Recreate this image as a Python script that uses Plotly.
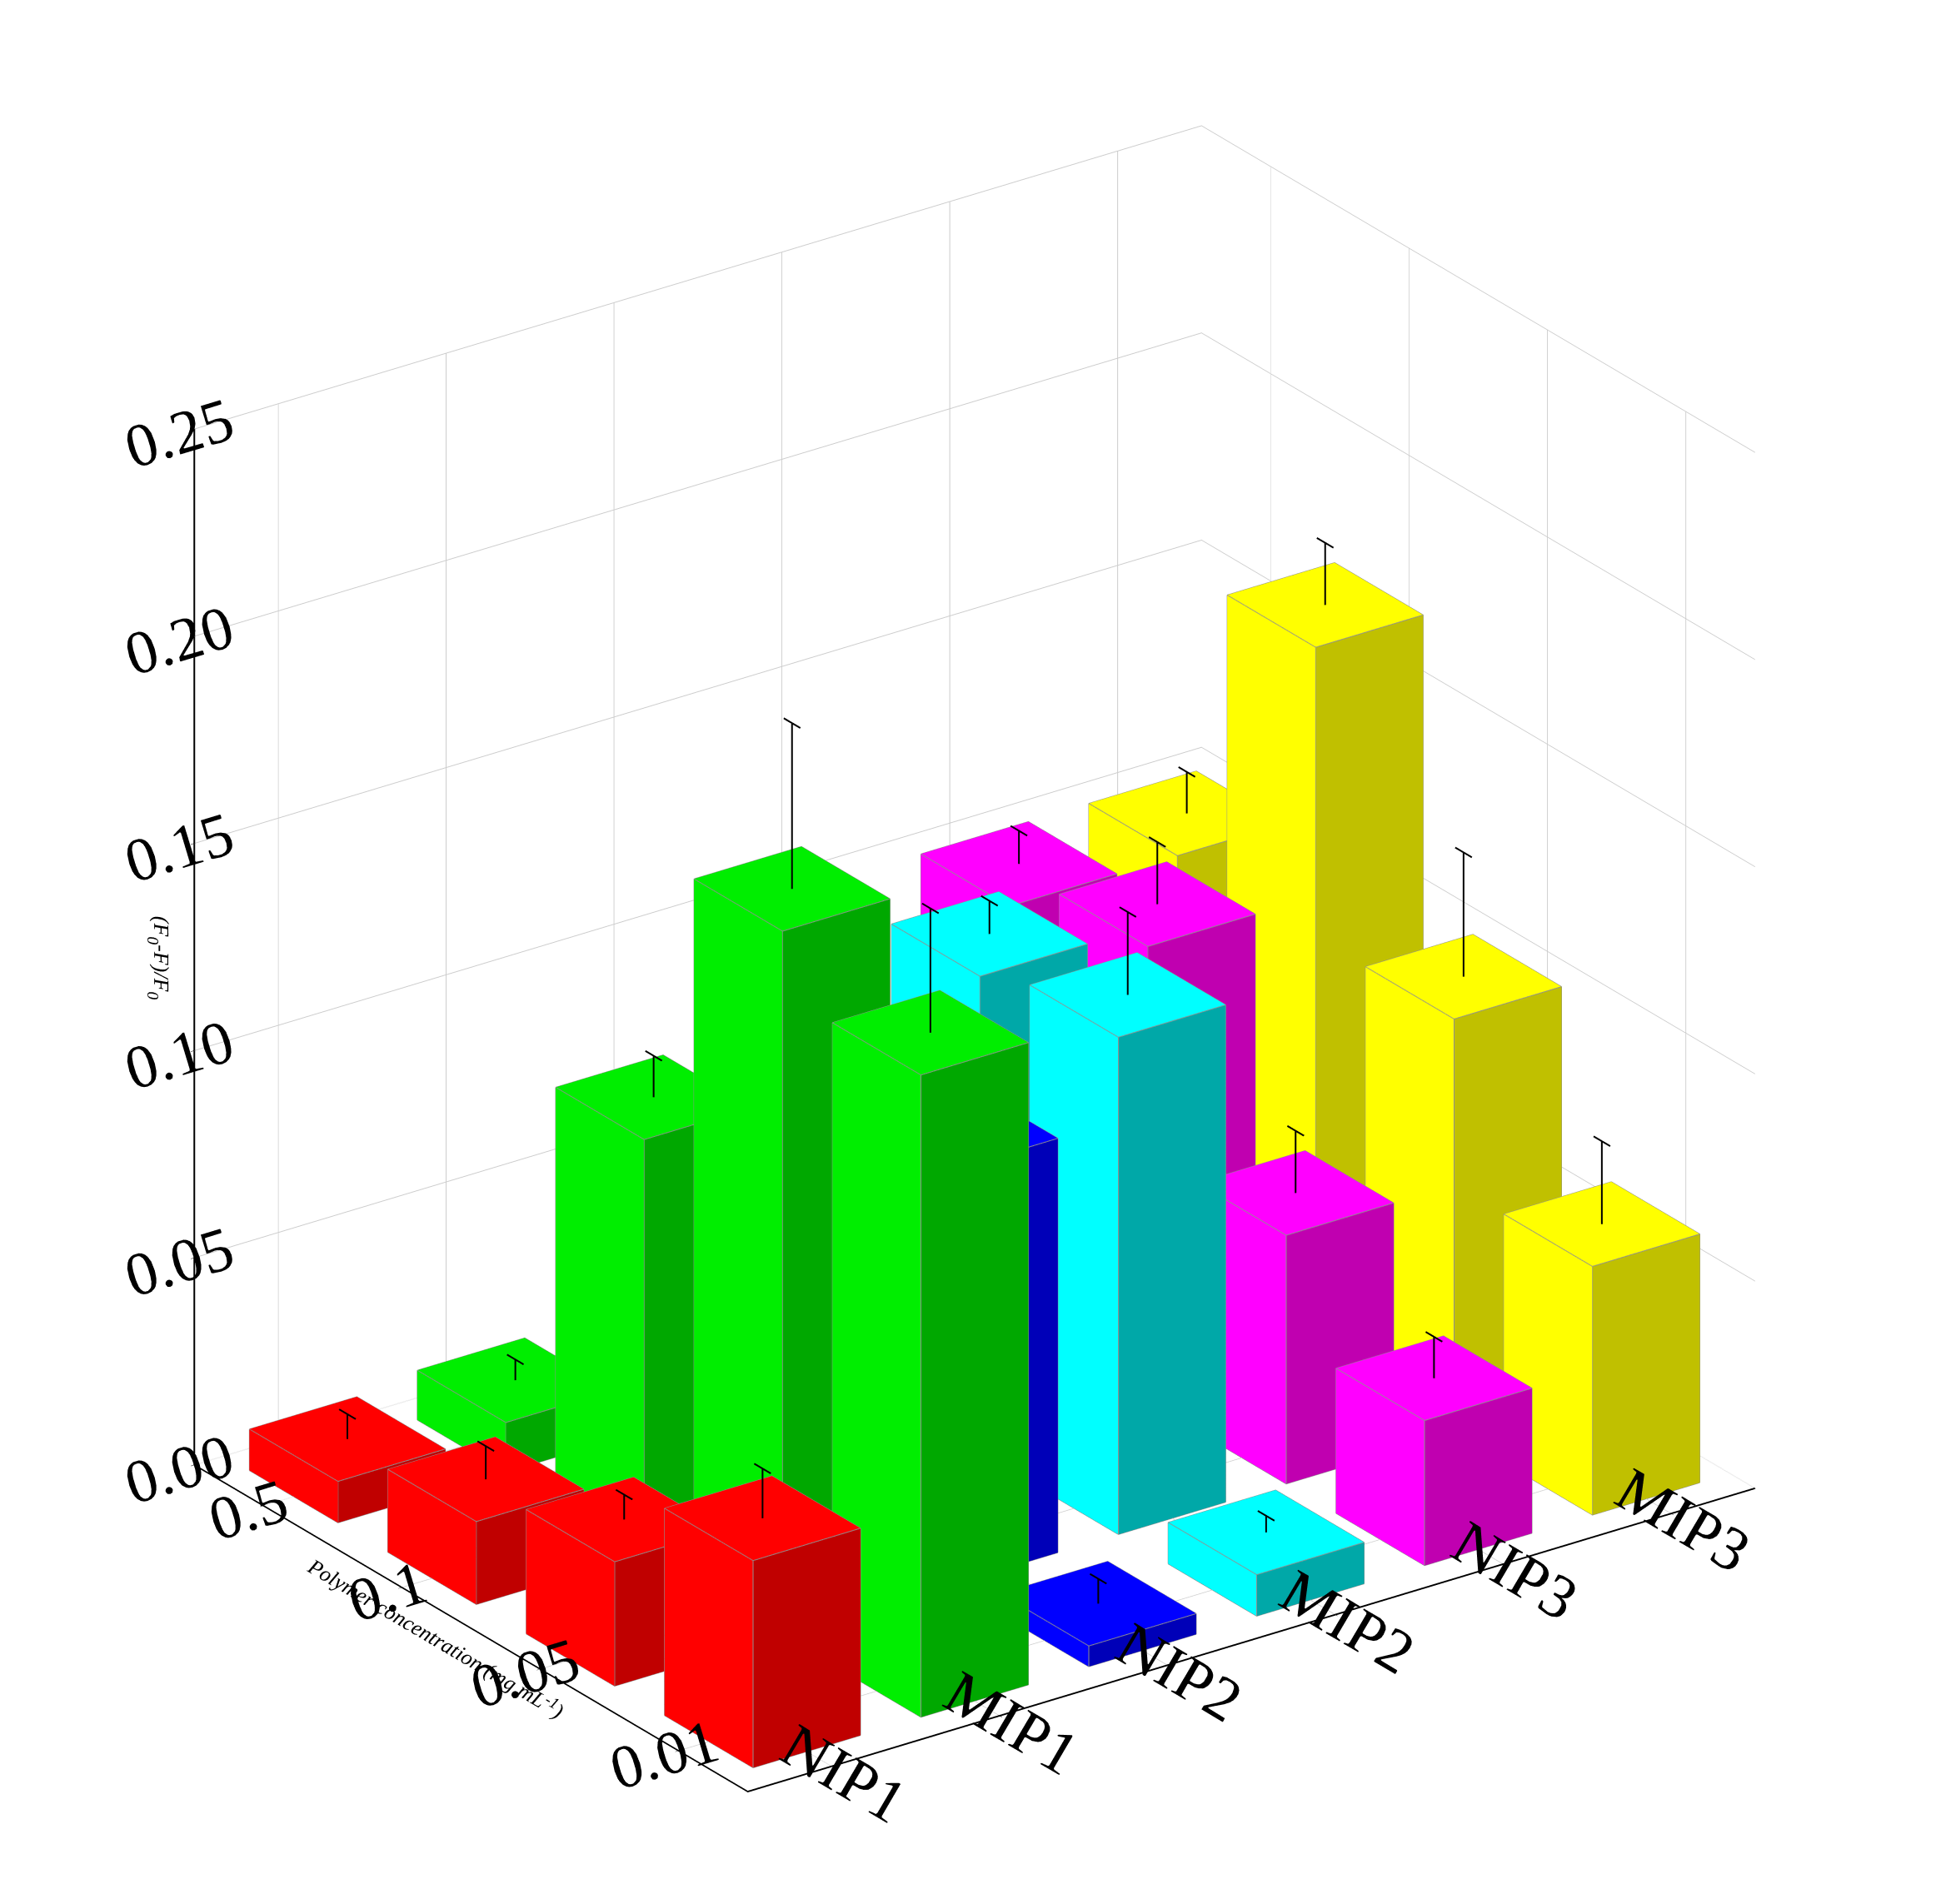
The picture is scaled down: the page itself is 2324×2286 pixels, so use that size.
import plotly.graph_objects as go

concs = ['0.5', '0.1', '0.05', '0.01']
series = ['NIP1', 'MIP1', 'NIP2', 'MIP2', 'NIP3', 'MIP3']
colors = ['#ff0000', '#00ee00', '#0000ff', '#00ffff', '#ff00ff', '#ffff00']
dark = ['#c00000', '#00a800', '#0000b8', '#00a8a8', '#c000b0', '#c0c000']

# values per series, ordered as concs
vals = {
    'NIP1': [0.010, 0.020, 0.030, 0.050],
    'MIP1': [0.012, 0.100, 0.170, 0.155],
    'NIP2': [0.030, 0.070, 0.100, 0.005],
    'MIP2': [0.060, 0.115, 0.120, 0.010],
    'NIP3': [0.100, 0.110, 0.060, 0.035],
    'MIP3': [0.100, 0.170, 0.100, 0.060],
}
errs = {
    'NIP1': [0.006, 0.008, 0.006, 0.012],
    'MIP1': [0.005, 0.010, 0.040, 0.030],
    'NIP2': [0.004, 0.006, 0.008, 0.006],
    'MIP2': [0.005, 0.008, 0.020, 0.004],
    'NIP3': [0.008, 0.015, 0.015, 0.010],
    'MIP3': [0.010, 0.015, 0.030, 0.020],
}

w = 0.32
fig = go.Figure()
for j, s in enumerate(series):
    X, Y, Z, I, J, K, FC = [], [], [], [], [], [], []
    ex, ey, ez = [], [], []
    gx, gy, gz = [], [], []
    for i, v in enumerate(vals[s]):
        n = len(X)
        for dz in (0, v):
            for dx, dy in ((-w, -w), (w, -w), (w, w), (-w, w)):
                X.append(i + dx); Y.append(j + dy); Z.append(dz)
        faces = [(0, 1, 2), (0, 2, 3), (4, 5, 6), (4, 6, 7),
                 (0, 1, 5), (0, 5, 4), (1, 2, 6), (1, 6, 5),
                 (2, 3, 7), (2, 7, 6), (3, 0, 4), (3, 4, 7)]
        fcol = [dark[j], dark[j], colors[j], colors[j],
                colors[j], colors[j], dark[j], dark[j],
                dark[j], dark[j], colors[j], colors[j]]
        for (a, b, c), fc in zip(faces, fcol):
            I.append(n + a); J.append(n + b); K.append(n + c); FC.append(fc)
        # visible edges
        for p in ([4, 5, 6, 7, 4], [0, 1, 2], [1, 5], [0, 4], [2, 6]):
            gx += [X[n + q] for q in p] + [None]
            gy += [Y[n + q] for q in p] + [None]
            gz += [Z[n + q] for q in p] + [None]
        top = v + errs[s][i]
        c = 0.06
        ex += [i, i, None, i - c, i + c, None]
        ey += [j, j, None, j, j, None]
        ez += [v, top, None, top, top, None]
    fig.add_trace(go.Mesh3d(x=X, y=Y, z=Z, i=I, j=J, k=K, facecolor=FC,
                            flatshading=True, opacity=1,
                            lighting=dict(ambient=1.0, diffuse=0.0, specular=0.0,
                                          fresnel=0.0, roughness=1.0),
                            showscale=False, hoverinfo='skip'))
    fig.add_trace(go.Scatter3d(x=gx, y=gy, z=gz, mode='lines', hoverinfo='skip',
                               line=dict(color='#909090', width=2), showlegend=False))
    fig.add_trace(go.Scatter3d(x=ex, y=ey, z=ez, mode='lines', hoverinfo='skip',
                               line=dict(color='black', width=4), showlegend=False))

font = dict(family='Liberation Serif', size=26, color='black')
tf = dict(family='Liberation Serif', size=30, color='black')
ax = dict(gridcolor='#cccccc', showbackground=False, ticks='outside',
          showline=True, linecolor='black', linewidth=4, tickcolor='black')
fig.update_layout(
    width=2324, height=2286, paper_bgcolor='white', showlegend=False,
    margin=dict(l=0, r=0, t=0, b=0),
    scene=dict(
        xaxis=dict(title=dict(text='<i>Polymer concentration (mg mL<sup>-1</sup>)</i>', font=font),
                   tickvals=list(range(4)), ticktext=concs, range=[-0.5, 3.5],
                   tickfont=tf, **ax),
        yaxis=dict(title=dict(text='', font=font),
                   tickvals=list(range(6)), ticktext=series, range=[-0.5, 5.5],
                   tickfont=tf, **ax),
        zaxis=dict(title=dict(text='<i>(F<sub>0</sub>-F)/F<sub>0</sub></i>', font=font),
                   range=[0, 0.25], tickvals=[0, 0.05, 0.1, 0.15, 0.2, 0.25],
                   ticktext=['0.00', '0.05', '0.10', '0.15', '0.20', '0.25'],
                   tickfont=tf, **ax),
        aspectmode='manual', aspectratio=dict(x=1, y=1.3, z=1.2),
        camera=dict(eye=dict(x=1.75, y=-1.25, z=1.0),
                    projection=dict(type='orthographic')),
    ),
)
fig.write_html("out.html")
